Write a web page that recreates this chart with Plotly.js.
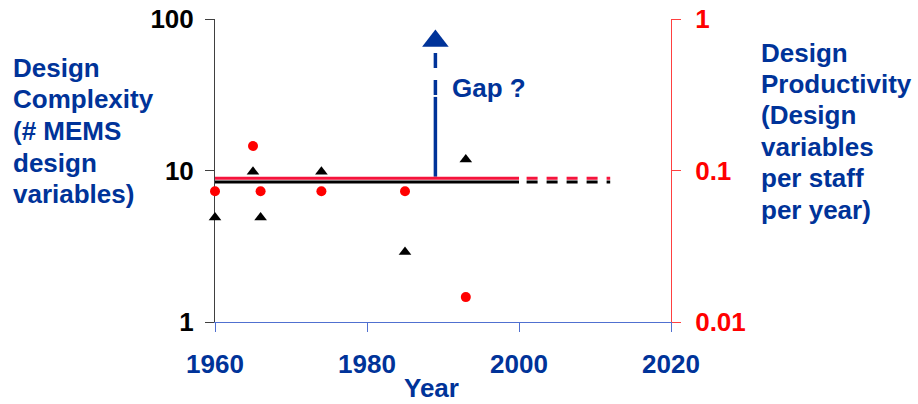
<!DOCTYPE html>
<html>
<head>
<meta charset="utf-8">
<script src="https://cdn.plot.ly/plotly-3.0.1.min.js"></script>
<style>html,body{margin:0;padding:0;background:#fff;}#chart{width:918px;height:404px;}</style>
</head>
<body>
<div id="chart"></div>
<script>
// ---- data ----
const complexityYears = [1960, 1965, 1966, 1974, 1985, 1993];
const complexity = [4.9, 9.8, 4.9, 9.8, 2.9, 11.8];          // # MEMS design variables (left axis)
const productivityYears = [1960, 1965, 1966, 1974, 1985, 1993];
const productivity = [0.073, 0.145, 0.073, 0.073, 0.073, 0.0146]; // per staff per year (right axis)

const trendSolidYears = [1960, 2000];
const trendDashedYears = [2001, 2012];
const complexityTrend = [8.4, 8.4];
const productivityTrend = [0.089, 0.089];

const gapYear = [1989, 1989];
const gapSolid = [9.1, 30.6];
const gapDashed = [59.7, 30.6];
const gapHead = [71.5];

const xTicks = [1960, 1980, 2000, 2020];
const leftTicks = [1, 10, 100];
const leftTickText = ['1', '10', '100'];
const rightTicks = [0.01, 0.1, 1];
const rightTickText = ['0.01', '0.1', '1'];

const leftTitleLines = ['Design', 'Complexity', '(# MEMS', 'design', 'variables)'];
const rightTitleLines = ['Design', 'Productivity', '(Design', 'variables', 'per staff', 'per year)'];

// ---- styling ----
const FONT = '"Liberation Sans", Arial, Helvetica, sans-serif';
const BLUE = '#003399';
const RED = '#FF0000';
const LINERED = '#F5143C';

const W = 918, H = 404;
const M = {l: 215, r: 247, t: 19, b: 82};
const PW = W - M.l - M.r, PH = H - M.t - M.b;
const px = x => (x - M.l) / PW;
const py = y => (H - M.b - y) / PH;

const traces = [
  {x: trendSolidYears, y: complexityTrend, yaxis: 'y', mode: 'lines',
   line: {color: '#000000', width: 3}, hoverinfo: 'skip', showlegend: false},
  {x: trendDashedYears, y: complexityTrend, yaxis: 'y', mode: 'lines',
   line: {color: '#000000', width: 3, dash: '11px,9px'}, hoverinfo: 'skip', showlegend: false},
  {x: trendSolidYears, y: productivityTrend, yaxis: 'y2', mode: 'lines',
   line: {color: LINERED, width: 3}, hoverinfo: 'skip', showlegend: false},
  {x: trendDashedYears, y: productivityTrend, yaxis: 'y2', mode: 'lines',
   line: {color: LINERED, width: 3, dash: '11px,9px'}, hoverinfo: 'skip', showlegend: false},
  {x: gapYear, y: gapSolid, yaxis: 'y', mode: 'lines',
   line: {color: BLUE, width: 3.5}, showlegend: false},
  {x: gapYear, y: gapDashed, yaxis: 'y', mode: 'lines',
   line: {color: BLUE, width: 3.5, dash: '15px,12px'}, showlegend: false},
  {x: [gapYear[0]], y: gapHead, yaxis: 'y', mode: 'markers', cliponaxis: false,
   marker: {symbol: 'triangle-up', size: 23, color: BLUE}, showlegend: false},
  {x: complexityYears, y: complexity, yaxis: 'y', mode: 'markers', name: 'Design complexity',
   cliponaxis: false, marker: {symbol: 'triangle-up', size: 11, color: '#000000'}, showlegend: false},
  {x: productivityYears, y: productivity, yaxis: 'y2', mode: 'markers', name: 'Design productivity',
   cliponaxis: false, marker: {symbol: 'circle', size: 10, color: RED}, showlegend: false}
];

const annotations = [];
const leftTop = 67.6, leftStep = 31.7;
leftTitleLines.forEach((t, i) => annotations.push({
  xref: 'paper', yref: 'paper', x: px(11), y: py(leftTop + i * leftStep),
  xanchor: 'left', yanchor: 'middle', showarrow: false, text: t,
  font: {family: FONT, size: 26, color: BLUE, weight: 'bold'}
}));
const rightTop = 52.6, rightStep = 31.4;
rightTitleLines.forEach((t, i) => annotations.push({
  xref: 'paper', yref: 'paper', x: px(759), y: py(rightTop + i * rightStep),
  xanchor: 'left', yanchor: 'middle', showarrow: false, text: t,
  font: {family: FONT, size: 26, color: BLUE, weight: 'bold'}
}));
annotations.push({
  xref: 'paper', yref: 'paper', x: px(450), y: py(88), xanchor: 'left', yanchor: 'middle',
  showarrow: false, text: 'Gap ?', font: {family: FONT, size: 26, color: BLUE, weight: 'bold'}
});
annotations.push({
  xref: 'paper', yref: 'paper', x: px(431.5), y: py(404), xanchor: 'center', yanchor: 'bottom',
  borderpad: 0, showarrow: false, text: 'Year',
  font: {family: FONT, size: 26, color: BLUE, weight: 'bold'}
});

const layout = {
  width: W, height: H, margin: M,
  paper_bgcolor: '#ffffff', plot_bgcolor: '#ffffff',
  showlegend: false,
  xaxis: {
    range: [1960, 2020], tickvals: xTicks, ticks: 'outside', ticklen: 9, tickwidth: 1,
    tickcolor: '#5070D0', showline: true, linecolor: '#5070D0', linewidth: 1,
    showgrid: false, zeroline: false, layer: 'below traces', ticklabelstandoff: 10,
    tickfont: {family: FONT, size: 26, color: BLUE, weight: 'bold'}
  },
  yaxis: {
    type: 'log', range: [0, 2], tickvals: leftTicks, ticktext: leftTickText,
    ticks: 'outside', ticklen: 9, tickwidth: 1, tickcolor: '#404040',
    showline: true, linecolor: '#404040', linewidth: 1, ticklabelstandoff: 6,
    showgrid: false, zeroline: false, layer: 'below traces',
    tickfont: {family: FONT, size: 26, color: '#000000', weight: 'bold'}
  },
  yaxis2: {
    type: 'log', range: [-2, 0], overlaying: 'y', side: 'right', anchor: 'x',
    tickvals: rightTicks, ticktext: rightTickText,
    ticks: 'outside', ticklen: 9, tickwidth: 1, tickcolor: '#FF4040',
    showline: true, linecolor: '#FF4040', linewidth: 1, ticklabelstandoff: 9,
    showgrid: false, zeroline: false, layer: 'below traces',
    tickfont: {family: FONT, size: 26, color: RED, weight: 'bold'}
  },
  annotations: annotations
};

Plotly.newPlot('chart', traces, layout, {displayModeBar: false, staticPlot: true});
</script>
</body>
</html>
